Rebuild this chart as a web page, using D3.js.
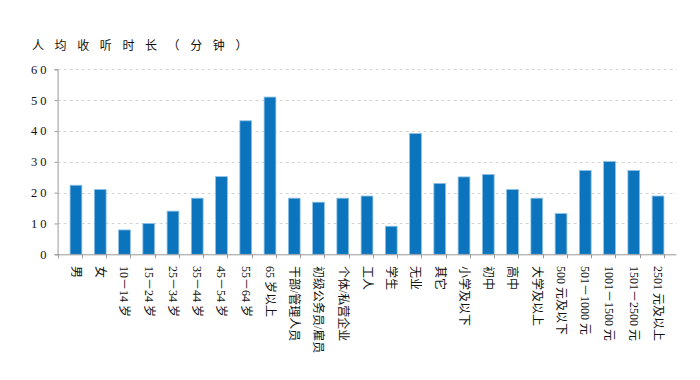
<!DOCTYPE html>
<html>
<head>
<meta charset="utf-8">
<script src="https://cdn.jsdelivr.net/npm/d3@7.9.0/dist/d3.min.js"></script>
<style>
  body { margin: 0; background: #fff; }
  svg { display: block; font-family: "Liberation Serif", "Noto Sans CJK SC", serif; }
</style>
</head>
<body>
<svg id="chart" width="700" height="380"></svg>
<script>
const categories = [
  '男', '女', '10－14 岁', '15－24 岁', '25－34 岁', '35－44 岁', '45－54 岁', '55－64 岁',
  '65 岁以上', '干部/管理人员', '初级公务员/雇员', '个体/私营企业', '工人', '学生', '无业', '其它',
  '小学及以下', '初中', '高中', '大学及以上', '500 元及以下', '501－1000 元', '1001－1500 元',
  '1501－2500 元', '2501 元及以上'
];
const minutes = [
  22.4, 21, 7.9, 10, 14, 18.2, 25.2, 43.3,
  51, 18.2, 16.9, 18.2, 18.9, 9.1, 39.2, 23,
  25.1, 25.9, 21, 18.2, 13.2, 27.2, 30.1,
  27.2, 18.9
];
const yTicks = [0, 10, 20, 30, 40, 50, 60];
const title = '人均收听时长（分钟）';

const svg = d3.select('#chart');
const plotLeft = 57.6, plotRight = 676.4, plotTop = 69.3, plotBottom = 254.3;

const x = d3.scaleBand().domain(categories).range([plotLeft, plotRight]).padding(0.515);
const y = d3.scaleLinear().domain([0, 60]).range([plotBottom, plotTop]);

// grid lines
svg.append('g')
  .selectAll('line')
  .data(yTicks.filter(d => d > 0))
  .join('line')
  .attr('x1', plotLeft).attr('x2', plotRight)
  .attr('y1', d => Math.round(y(d)) + 0.5).attr('y2', d => Math.round(y(d)) + 0.5)
  .attr('stroke', '#d4d4d4')
  .attr('stroke-dasharray', '3,3');

// bars
svg.append('g')
  .selectAll('rect')
  .data(minutes)
  .join('rect')
  .attr('x', (d, i) => x(categories[i]))
  .attr('y', d => y(d))
  .attr('width', x.bandwidth())
  .attr('height', d => plotBottom - y(d))
  .attr('fill', '#0b74bd')
  .attr('stroke', '#8fc1e6')
  .attr('stroke-width', 0.8);

// y axis
const yAxis = svg.append('g')
  .attr('transform', `translate(${plotLeft},0)`)
  .call(d3.axisLeft(y).tickValues(yTicks).tickSize(3).tickPadding(8));
yAxis.select('.domain').attr('stroke', '#999');
yAxis.selectAll('.tick line').attr('stroke', '#999');
yAxis.selectAll('.tick text')
  .text(d => String(d).split('').join(' '))
  .attr('font-size', 12.5)
  .attr('fill', '#111')
  .attr('font-family', '"Liberation Serif", serif');

// x axis (ticks at category boundaries)
svg.append('line')
  .attr('x1', plotLeft).attr('x2', plotRight)
  .attr('y1', plotBottom + 0.5).attr('y2', plotBottom + 0.5)
  .attr('stroke', '#999');
const step = x.step();
svg.append('g')
  .selectAll('line')
  .data(d3.range(categories.length + 1))
  .join('line')
  .attr('x1', i => Math.round(plotLeft + i * step) + 0.5)
  .attr('x2', i => Math.round(plotLeft + i * step) + 0.5)
  .attr('y1', plotBottom).attr('y2', plotBottom + 4)
  .attr('stroke', '#999');

// category labels, rotated
svg.append('g')
  .selectAll('text')
  .data(categories)
  .join('text')
  .attr('transform', d => `translate(${x(d) + x.bandwidth() / 2},266) rotate(90)`)
  .attr('dy', '0.35em')
  .attr('font-size', 12)
  .attr('fill', '#111')
  .text(d => d);

// title
svg.append('text')
  .attr('x', 32)
  .attr('y', 50)
  .attr('font-size', 12)
  .attr('letter-spacing', 10.6)
  .attr('fill', '#111')
  .text(title);
</script>
</body>
</html>
